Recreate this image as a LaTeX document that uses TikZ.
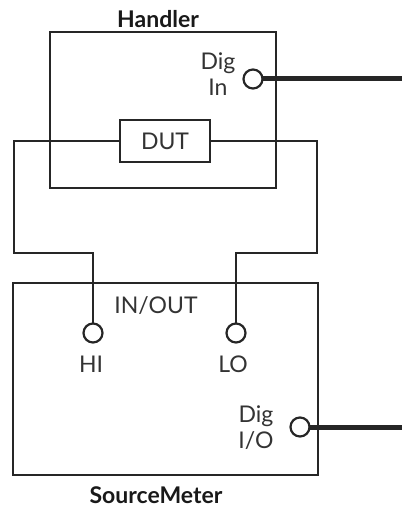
\documentclass[tikz,border=0pt]{standalone}
\usepackage{fontspec}
\setmainfont{Lato}
\tikzset{
  wire/.style={draw=black!85, line width=2pt, line join=miter},
  buswire/.style={draw=black!85, line width=5pt},
  frame/.style={draw=black!85, line width=2pt, inner sep=0pt},
  port/.style={circle, draw=black!85, line width=2.2pt, fill=white, minimum size=19pt, inner sep=0pt},
  lab/.style={font=\fontsize{23}{26}\selectfont, text=black!80, inner sep=0pt, align=center},
  title/.style={font=\fontsize{23}{27}\selectfont\bfseries, text=black!90, inner sep=0pt}
}
\begin{document}
\begin{tikzpicture}[x=1pt,y=-1pt]
\useasboundingbox (0,0) rectangle (402,508);
\node[frame, minimum width=226pt, minimum height=156pt] (handler) at (163,110) {};
\node[frame, minimum width=305pt, minimum height=192pt] (meter) at (165.5,379) {};
\coordinate (ltop) at (13.5,141);
\coordinate (lmid) at (13.5,253);
\coordinate (lbot) at (93,253);
\coordinate (rtop) at (317,141);
\coordinate (rmid) at (317,253);
\coordinate (rbot) at (236,253);
\coordinate (digout) at (402,79);
\coordinate (ioout) at (402,427);
\node[frame, fill=white, minimum width=90pt, minimum height=42pt] (dut) at (165,141) {};
\node[lab] at (dut.center) {DUT};
\draw[wire] (dut.west) -- (ltop) -- (lmid) -- (lbot) -- (93,323);
\draw[wire] (dut.east) -- (rtop) -- (rmid) -- (rbot) -- (236,323);
\draw[buswire] (253,79) -- (digout);
\draw[buswire] (300,427) -- (ioout);
\node[port] (hi) at (93,333) {};
\node[port] (lo) at (236,333) {};
\node[port] (digin) at (253,79) {};
\node[port] (digio) at (300,427) {};
\node[title] at (158,19) {Handler};
\node[title] at (156,495) {SourceMeter};
\node[lab] at (218,74) {Dig\\In};
\node[lab] at (156,306) {IN/OUT};
\node[lab] at (91,364) {HI};
\node[lab] at (233,364) {LO};
\node[lab] at (256,428) {Dig\\I/O};
\end{tikzpicture}
\end{document}
